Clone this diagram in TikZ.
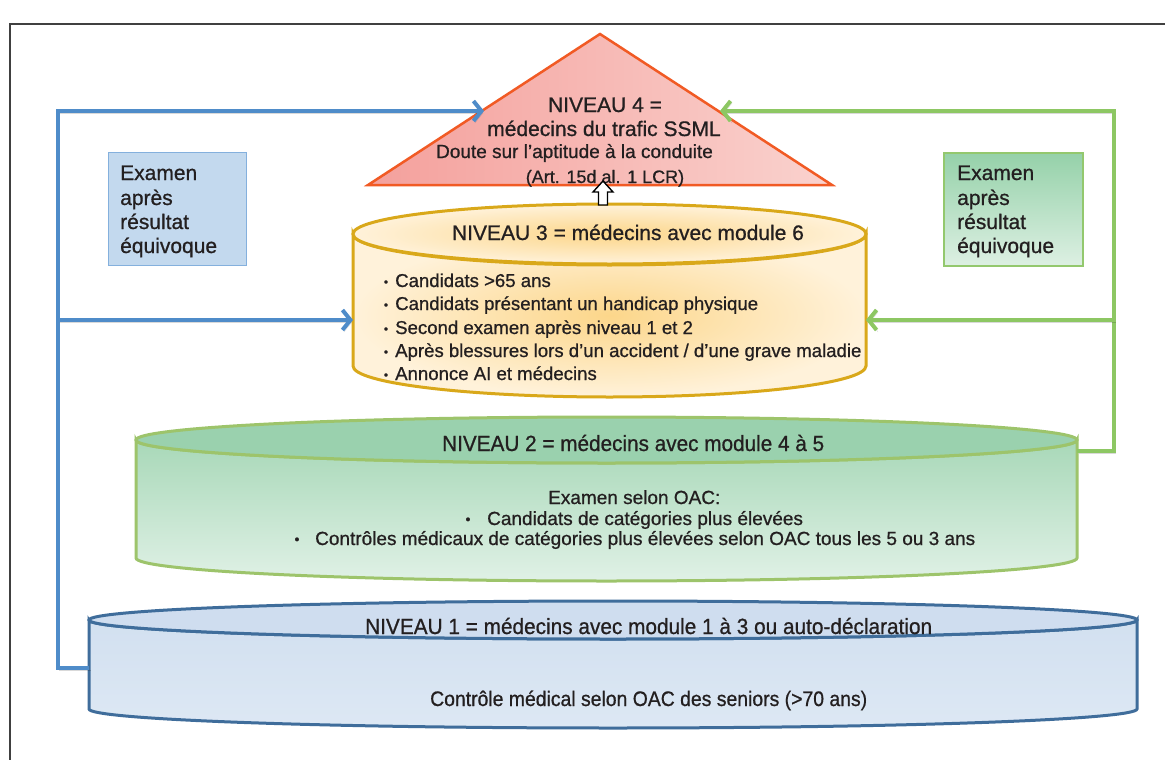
\documentclass[tikz,border=0pt]{standalone}
\usepackage{fontspec}
\setmainfont{Liberation Sans}[UprightFeatures={FakeBold=0.8}]
\usepackage{graphicx}
\usetikzlibrary{arrows.meta}
\definecolor{txt}{HTML}{231F20}
\definecolor{bluel}{HTML}{4F8CC9}
\definecolor{greenl}{HTML}{8DC763}
\definecolor{triS}{HTML}{F15A24}
\definecolor{triL}{HTML}{F4A09C}
\definecolor{triR}{HTML}{FAD2CE}
\definecolor{cthS}{HTML}{D9A81A}
\definecolor{cthIn}{HTML}{FCD68A}
\definecolor{cthOut}{HTML}{FFF2DA}
\definecolor{ctwS}{HTML}{9DC46B}
\definecolor{ctwTop}{HTML}{9AD1AE}
\definecolor{ctwBodyT}{HTML}{A8D8B8}
\definecolor{ctwBodyB}{HTML}{E0F1E6}
\definecolor{coS}{HTML}{3F6D9B}
\definecolor{coTop}{HTML}{CFDDEF}
\definecolor{coBodyT}{HTML}{D2E0F0}
\definecolor{coBodyB}{HTML}{DDE8F4}
\definecolor{bbF}{HTML}{C3D9EE}
\definecolor{bbS}{HTML}{84B0DD}
\definecolor{gbS}{HTML}{93C86E}
\definecolor{gbT}{HTML}{95D1A9}
\definecolor{gbB}{HTML}{DDF0E3}
\newcommand{\fsz}[1]{\fontsize{#1}{#1}\selectfont}
\newcommand{\fitw}[2]{\resizebox{#1}{\height}{#2}}
\newcommand{\smallbul}[1]{{\fsz{#1}\raisebox{1pt}{•}}}
\begin{document}
\begin{tikzpicture}[x=1pt,y=-1pt,
  every node/.style={inner sep=0pt, text=txt},
  conn/.style={line width=4pt, line join=miter,
    -{Straight Barb[length=8pt,width=20pt]},
    preaction={draw=black, opacity=.15, transform canvas={shift={(1.5pt,-2pt)}}}},
  blueconn/.style={conn, draw=bluel},
  greenconn/.style={conn, draw=greenl},
  tline/.style={anchor=base},
  lline/.style={anchor=base west},
  boxtxt/.style={anchor=base west, font=\fsz{21}},
  bultxt/.style={anchor=base west, font=\fsz{18.6}},
  cyltxt/.style={anchor=base west, font=\fsz{19}}
]
\useasboundingbox (0,0) rectangle (1165,760);
\fill[white] (0,0) rectangle (1165,760);
% frame
\draw[line width=1.4pt, black!75] (10,780) -- (10,24) -- (1185,24);

% ---------- cylinder 1 ----------
\path[draw=coS, line width=3pt, top color=coBodyT, bottom color=coBodyB]
  (89,620) -- (89,709) arc[start angle=180, end angle=0, x radius=524, y radius=19]
  -- (1137,620) arc[start angle=0, end angle=180, x radius=524, y radius=19] -- cycle;
\path[draw=coS, line width=3pt, fill=coTop] (613,620) ellipse [x radius=524, y radius=19];
\node[lline] (n1t) at (365,634) {\fitw{567pt}{\fsz{22}NIVEAU 1 = médecins avec module 1 à 3 ou auto-déclaration}};
\node[lline] (n1b) at (430,706) {\fitw{437pt}{\fsz{21}Contrôle médical selon OAC des seniors (>70 ans)}};

% ---------- cylinder 2 ----------
\path[draw=ctwS, line width=3pt, top color=ctwBodyT, bottom color=ctwBodyB]
  (136,440) -- (136,558) arc[start angle=180, end angle=0, x radius=470.5, y radius=23]
  -- (1077,440) arc[start angle=0, end angle=180, x radius=470.5, y radius=23] -- cycle;
\path[draw=ctwS, line width=3pt, fill=ctwTop] (606.5,440) ellipse [x radius=470.5, y radius=23];
\node[lline] (n2t) at (442,451) {\fitw{382pt}{\fsz{22}NIVEAU 2 = médecins avec module 4 à 5}};
\node[cyltxt] (n2a) at (548,504) {Examen selon OAC:};
\node[anchor=base] (n2b1) at (468,525) {\smallbul{14}};
\node[cyltxt] (n2b) at (487,525) {Candidats de catégories plus élevées};
\node[anchor=base] (n2c1) at (297,545) {\smallbul{14}};
\node[cyltxt] (n2c) at (315,545) {Contrôles médicaux de catégories plus élevées selon OAC tous les 5 ou 3 ans};

% ---------- cylinder 3 ----------
\path[draw=cthS, line width=3pt, inner color=cthIn, outer color=cthOut]
  (353,234) -- (353,366) arc[start angle=180, end angle=0, x radius=256.5, y radius=31]
  -- (866,234) arc[start angle=0, end angle=180, x radius=256.5, y radius=31] -- cycle;
\path[draw=cthS, line width=3pt, inner color=cthIn, outer color=cthOut] (609.5,234) ellipse [x radius=256.5, y radius=30];
\node[tline, font=\fsz{21}] (n3t) at (628,240) {NIVEAU 3 = médecins avec module 6};
\foreach \yy/\tt [count=\i] in {287/{Candidats >65 ans},
  310/{Candidats présentant un handicap physique},
  334/{Second examen après niveau 1 et 2},
  357/{Après blessures lors d’un accident / d’une grave maladie},
  380/{Annonce AI et médecins}}{
  \node[anchor=base] (n3d\i) at (386,\yy) {\smallbul{12}};
  \node[bultxt] (n3l\i) at (395,\yy) {\tt};
}

% ---------- triangle (level 4) ----------
\coordinate (t4apex) at (600,34);
\coordinate (t4bl) at (368,185);
\coordinate (t4br) at (832,185);
\path[draw=triS, line width=2.5pt, left color=triL, right color=triR, line join=miter]
  (t4apex) -- (t4br) -- (t4bl) -- cycle;
\node[tline, font=\fsz{21}] (n4a) at (605,112) {NIVEAU 4 =};
\node[tline, font=\fsz{21}] (n4b) at (604,136) {médecins du trafic SSML};
\node[tline, font=\fsz{19}] (n4c) at (574.5,158) {Doute sur l’aptitude à la conduite};
\node[tline, font=\fsz{18}] (n4d) at (605,183) {(Art. 15d al. 1 LCR)};

% up arrow from level 3 to level 4
\path[draw=black, fill=white, line width=1.4pt, line join=miter]
  (598.5,205) -- (598.5,192) -- (593,192) -- (603,181) -- (613,192) -- (607.5,192) -- (607.5,205) -- cycle;

% ---------- side boxes ----------
\node[draw=bbS, fill=bbF, line width=1.2pt, minimum width=138pt, minimum height=113pt, anchor=north west] (bbox) at (108,152) {};
\node[boxtxt] (bb1) at (120,180) {Examen};
\node[boxtxt] (bb2) at (120,205) {après};
\node[boxtxt] (bb3) at (120,229) {résultat};
\node[boxtxt] (bb4) at (120,253) {équivoque};

\node[draw=gbS, top color=gbT, bottom color=gbB, line width=2pt, minimum width=139pt, minimum height=113pt, anchor=north west] (gbox) at (943,152) {};
\node[boxtxt] (gb1) at (957,180) {Examen};
\node[boxtxt] (gb2) at (957,205) {après};
\node[boxtxt] (gb3) at (957,229) {résultat};
\node[boxtxt] (gb4) at (957,253) {équivoque};

% ---------- connectors ----------
\coordinate (c1w) at (89,668);
\coordinate (bcorner) at (58,111);
\coordinate (t4w) at (484,111);
\coordinate (bbranch) at (58,320);
\coordinate (c3w) at (353,320);
\coordinate (c2e) at (1077,451);
\coordinate (gcorner) at (1114,111);
\coordinate (t4e) at (720,111);
\coordinate (gbranch) at (1114,320);
\coordinate (c3e) at (866,320);

\draw[blueconn] (c1w) -| (bcorner) -- (t4w);
\draw[blueconn] (bbranch) -- (c3w);
\draw[greenconn] (c2e) -| (gcorner) -- (t4e);
\draw[greenconn] (gbranch) -- (c3e);
\end{tikzpicture}
\end{document}
